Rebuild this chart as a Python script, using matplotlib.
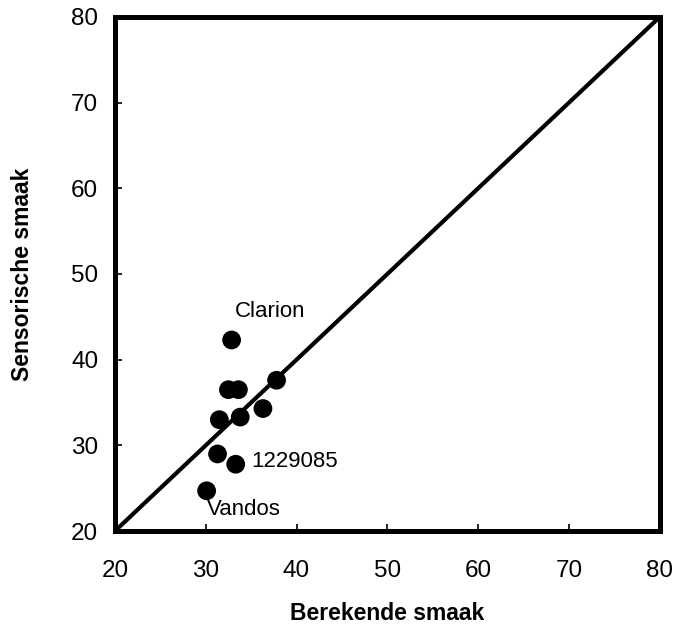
import matplotlib
matplotlib.use("Agg")
import matplotlib.pyplot as plt

plt.rcParams['font.family'] = ['Liberation Sans', 'DejaVu Sans']

berekend = [32.85, 32.5, 33.6, 37.8, 36.3, 33.8, 31.5, 31.3, 33.3, 30.1]
sensorisch = [42.3, 36.5, 36.5, 37.6, 34.3, 33.3, 33.0, 29.0, 27.8, 24.7]
labels = ["Clarion", "1229085", "Vandos"]
label_x = [33.2, 35.0, 30.1]
label_y = [45.0, 27.5, 21.9]
ticks = [20, 30, 40, 50, 60, 70, 80]

fig = plt.figure(figsize=(6.76, 6.27), dpi=100)
ax = fig.add_axes([0.170, 0.153, 0.806, 0.820])
ax.plot([20, 80], [20, 80], color='black', lw=3.0, solid_capstyle='butt')
ax.scatter(berekend, sensorisch, s=13.5**2, color='black', zorder=3, edgecolors='none')
for t, x, y in zip(labels, label_x, label_y):
    ax.text(x, y, t, fontsize=16, va='baseline', ha='left')
ax.set_xlim(20, 80)
ax.set_ylim(20, 80)
ax.set_xticks(ticks)
ax.set_yticks(ticks)
for s in ax.spines.values():
    s.set_linewidth(3.6)
ax.tick_params(axis='x', direction='in', length=5, width=1.2, labelsize=17.5, pad=21)
ax.tick_params(axis='y', direction='in', length=5, width=1.2, labelsize=17.5, pad=12)
ax.set_xlabel("Berekende smaak", fontsize=16.5, fontweight='bold', labelpad=14)
ax.set_ylabel("Sensorische smaak", fontsize=16.5, fontweight='bold', labelpad=27)
fig.savefig("out.png", dpi=100)
